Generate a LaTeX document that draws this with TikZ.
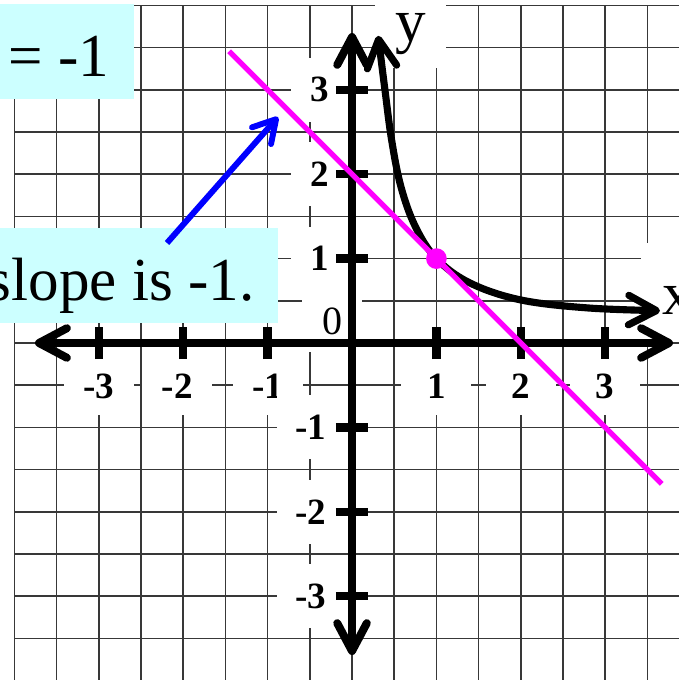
\documentclass[tikz,border=0pt]{standalone}
\usepackage{fontspec}
\setmainfont{Liberation Serif}
\usetikzlibrary{arrows.meta}
\definecolor{cyanbox}{RGB}{204,255,255}
\definecolor{fuchsia}{RGB}{255,0,255}
\definecolor{pureblue}{RGB}{0,0,255}
\begin{document}
\begin{tikzpicture}[
  gridl/.style={draw=black!78, line width=0.5pt},
  barb/.tip={Straight Barb[length=3.3mm,width=3.5mm,round]},
  axisline/.style={line width=2.7pt, barb-barb},
  tickmark/.style={line width=2.8pt},
  curveline/.style={line width=2.4pt, barb-barb},
  tanline/.style={draw=fuchsia, line width=1.8pt},
  bluearrow/.style={draw=pureblue, line width=2pt, -{Straight Barb[length=2.6mm,width=3mm,round]}},
  callout/.style={fill=cyanbox, inner ysep=0pt, font=\fontsize{20.6}{24}\selectfont},
  xlab/.style={fill=white, inner sep=0pt, minimum width=0.83cm, minimum height=0.69cm, font=\fontsize{12.5}{14}\selectfont\bfseries},
  ylabp/.style={fill=white, anchor=east, inner ysep=0pt, inner xsep=0.095cm, text width=0.355cm, align=right, minimum height=0.76cm, font=\fontsize{12.5}{14}\selectfont\bfseries},
  ylabn/.style={fill=white, anchor=east, inner ysep=0pt, inner xsep=0.13cm, text width=0.45cm, align=right, minimum height=0.76cm, font=\fontsize{12.5}{14}\selectfont\bfseries},
  axlab/.style={fill=white, inner ysep=0pt, font=\fontsize{20.6}{24}\selectfont}
]
\useasboundingbox (-4.171,-3.993) rectangle (3.874,4.064);
\clip (-4.171,-3.993) rectangle (3.874,4.064);

% grid
\draw[gridl, step=0.5] (-4,-4.5) grid (4.5,4);

% white label patches with tick labels
\node[xlab] (lxm3) at (-3.0,-0.509) {-3};
\node[xlab] (lxm2) at (-2.07,-0.509) {-2};
\node[xlab] (lxm1) at (-1.0,-0.509) {-1};
\node[xlab] (lx1) at (1.0,-0.509) {1};
\node[xlab] (lx2) at (2.0,-0.509) {2};
\node[xlab] (lx3) at (3.0,-0.509) {3};
\node[ylabp] (ly1) at (-0.166,1.0) {1};
\node[fill=white, inner sep=0pt, minimum width=0.71cm, minimum height=0.73cm, font=\fontsize{13.5}{15}\selectfont] (lzero) at (-0.237,0.261) {0};
\node[ylabp] (ly3) at (-0.166,3.0) {3};
\node[ylabp] (ly2) at (-0.166,2.0) {2};
\node[ylabn] (lym1) at (-0.166,-1.0) {-1};
\node[ylabn] (lym2) at (-0.166,-2.0) {-2};
\node[ylabn] (lym3) at (-0.166,-3.0) {-3};

% axis names
\node[axlab, anchor=base, minimum width=0.84cm, inner xsep=0pt, text height=0.48cm, text depth=0.32cm] (ylabel) at (0.693,3.578) {y};
\node[axlab, anchor=base west, inner xsep=0.26cm, text height=0.853cm, text depth=0.3cm] (xlabel) at (3.412,0.332) {x};

% callouts
\node[callout, anchor=base east, inner xsep=0.296cm, text height=0.865cm, text depth=0.26cm] (eqbox) at (-2.571,3.152) {= -1};
\node[callout, anchor=base east, inner xsep=0.284cm, text height=0.853cm, text depth=0.273cm] (slopebox) at (-0.865,0.509) {slope is -1.};

% axes
\coordinate (xleft) at (-3.756,0);
\coordinate (xright) at (3.803,0);
\coordinate (ybottom) at (0,-3.697);
\coordinate (ytop) at (0,3.673);
\draw[axisline] (xleft) -- (xright);
\draw[axisline] (ybottom) -- (ytop);
\foreach \t in {-3,-2,-1,1,2,3} {
  \draw[tickmark] (\t,-0.19) -- (\t,0.19);
  \draw[tickmark] (-0.19,\t) -- (0.19,\t);
}

% curve
\draw[curveline] plot[smooth, tension=0.6] coordinates {(0.31,3.64) (0.39,3.0) (0.47,2.40) (0.58,1.85) (0.75,1.38) (1,1) (1.4,0.71) (2.0,0.51) (2.8,0.415) (3.649,0.383)};

% tangent line
\coordinate (tA) at (-1.457,3.457);
\coordinate (tB) at (3.67,-1.67);
\draw[tanline] (tA) -- (tB);
\node[circle, fill=fuchsia, minimum size=0.245cm, inner sep=0pt] (P) at (1,1) {};

% blue arrow
\coordinate (bstart) at (-2.192,1.185);
\coordinate (btip) at (-0.877,2.678);
\draw[bluearrow] (bstart) -- (btip);
\end{tikzpicture}
\end{document}
